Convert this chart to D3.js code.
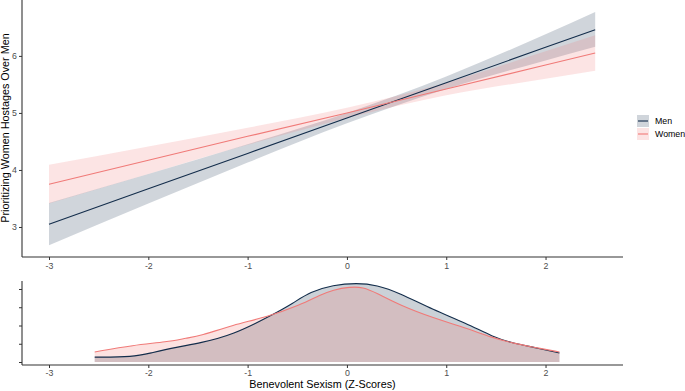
<!DOCTYPE html>
<html><head><meta charset="utf-8">
<script src="https://cdn.jsdelivr.net/npm/d3@7/dist/d3.min.js"></script>
<style>body{margin:0;background:#fff}svg{display:block;font-family:"Liberation Sans",Arial,sans-serif}</style>
</head><body>
<svg id="c" width="685" height="391"></svg>
<script>
// regression lines with confidence bands
const fitX = [-3, -2, -1, 0, 1, 2, 2.5];
const menFit = [3.05, 3.67, 4.29, 4.91, 5.53, 6.15, 6.46];
const menLo  = [2.68, 3.41, 4.13, 4.82, 5.42, 5.92, 6.16];
const menHi  = [3.42, 3.93, 4.45, 5.00, 5.64, 6.38, 6.77];
const womenFit = [3.75, 4.17, 4.59, 5.00, 5.42, 5.84, 6.05];
const womenLo  = [3.41, 3.93, 4.44, 4.91, 5.31, 5.60, 5.74];
const womenHi  = [4.09, 4.41, 4.74, 5.09, 5.53, 6.08, 6.36];
// density of predictor
const menDX = [-2.54,-2.15,-1.98,-1.71,-1.48,-1.15,-0.75,-0.54,-0.37,-0.14,0.1,0.3,0.53,0.87,1.2,1.47,1.67,1.87,2.14];
const menD  = [0.027,0.027,0.049,0.082,0.104,0.148,0.258,0.323,0.384,0.422,0.433,0.422,0.378,0.285,0.214,0.137,0.104,0.082,0.049];
const womenDX = [-2.54,-2.15,-1.81,-1.61,-1.48,-1.15,-0.8,-0.47,-0.27,-0.14,0.03,0.16,0.3,0.53,0.87,1.2,1.47,1.67,1.87,2.14];
const womenD  = [0.055,0.093,0.110,0.132,0.142,0.203,0.247,0.312,0.367,0.395,0.412,0.411,0.378,0.312,0.241,0.186,0.132,0.104,0.082,0.055];
const xTicks = [-3, -2, -1, 0, 1, 2];
const yTicks = [3, 4, 5, 6];
const dTicks = [0, 0.1, 0.2, 0.3, 0.4];
const groups = ["Men", "Women"];
const lineCol = {Men: "#132d4b", Women: "#f07a78"};

const svg = d3.select("#c");
const L = 22, R = 623;
const x = d3.scaleLinear().domain([-3.272, 2.78]).range([L, R]);
const yT = d3.scaleLinear().domain([2.474, 6.98]).range([257, 0]);
const yB = d3.scaleLinear().domain([-0.0164, 0.4438]).range([365, 281]);

const axisCol = "#333";
const tickTxt = "#4d4d4d";
const fmt = d => String(d);

// top panel bands
const area = d3.area().x(d => x(d.x)).y0(d => yT(d.lo)).y1(d => yT(d.hi)).curve(d3.curveMonotoneX);
const line = d3.line().x(d => x(d.x)).y(d => yT(d.y));
const data = {
  Men: fitX.map((v, i) => ({x: v, y: menFit[i], lo: menLo[i], hi: menHi[i]})),
  Women: fitX.map((v, i) => ({x: v, y: womenFit[i], lo: womenLo[i], hi: womenHi[i]}))
};
groups.forEach(g => {
  svg.append("path").attr("d", area(data[g])).attr("fill", lineCol[g]).attr("fill-opacity", 0.2);
});
groups.forEach(g => {
  svg.append("path").attr("d", line(data[g])).attr("fill", "none").attr("stroke", lineCol[g]).attr("stroke-width", 1.1);
});

// top axes
const gx = svg.append("g").attr("transform", "translate(0,257)")
  .call(d3.axisBottom(x).tickValues(xTicks).tickSize(3).tickPadding(3).tickFormat(fmt));
const gy = svg.append("g").attr("transform", `translate(${L},0)`)
  .call(d3.axisLeft(yT).tickValues(yTicks).tickSize(3).tickPadding(2).tickFormat(fmt));
[gx, gy].forEach(g => {
  g.select(".domain").attr("stroke", axisCol).attr("stroke-width", 1.1);
  g.selectAll(".tick line").attr("stroke", axisCol);
  g.selectAll(".tick text").attr("fill", tickTxt).style("font-size", "8.8px").style("font-family", "Liberation Sans, Arial, sans-serif");
});
gx.select(".domain").attr("d", `M${L},0H${R}`);
gy.select(".domain").attr("d", `M0,257V0`);

svg.append("text").attr("transform", "translate(5,128) rotate(-90)").attr("text-anchor", "middle")
  .attr("dy", "0.35em").style("font-size", "10.8px").attr("fill", "#000").text("Prioritizing Women Hostages Over Men");

// legend
groups.forEach((g, i) => {
  const yy = 115 + i * 13;
  svg.append("rect").attr("x", 637).attr("y", yy).attr("width", 12).attr("height", 12)
    .attr("fill", lineCol[g]).attr("fill-opacity", 0.2);
  svg.append("line").attr("x1", 638).attr("x2", 648).attr("y1", yy + 6).attr("y2", yy + 6)
    .attr("stroke", lineCol[g]).attr("stroke-width", 1.1);
  svg.append("text").attr("x", 655).attr("y", yy + 6).attr("dy", "0.35em")
    .style("font-size", "8.8px").attr("fill", "#000").text(g);
});

// bottom density panel
const dArea = d3.area().x(d => x(d.x)).y0(yB(0)).y1(d => yB(d.y)).curve(d3.curveBasis);
const dLine = d3.line().x(d => x(d.x)).y(d => yB(d.y)).curve(d3.curveBasis);
const dens = {
  Men: menDX.map((v, i) => ({x: v, y: menD[i]})),
  Women: womenDX.map((v, i) => ({x: v, y: womenD[i]}))
};
groups.forEach(g => {
  svg.append("path").attr("d", dArea(dens[g])).attr("fill", lineCol[g]).attr("fill-opacity", 0.22);
});
groups.forEach(g => {
  svg.append("path").attr("d", dLine(dens[g])).attr("fill", "none").attr("stroke", lineCol[g]).attr("stroke-width", 1.1);
});

const bx = svg.append("g").attr("transform", "translate(0,365)")
  .call(d3.axisBottom(x).tickValues(xTicks).tickSize(3).tickPadding(2).tickFormat(fmt));
const by = svg.append("g").attr("transform", `translate(${L},0)`)
  .call(d3.axisLeft(yB).tickValues(dTicks).tickSize(3).tickFormat(""));
[bx, by].forEach(g => {
  g.select(".domain").attr("stroke", axisCol).attr("stroke-width", 1.1);
  g.selectAll(".tick line").attr("stroke", axisCol);
  g.selectAll(".tick text").attr("fill", tickTxt).style("font-size", "8.8px").style("font-family", "Liberation Sans, Arial, sans-serif");
});
bx.select(".domain").attr("d", `M${L},0H${R}`);
by.select(".domain").attr("d", `M0,365V281`);

svg.append("text").attr("x", (L + R) / 2).attr("y", 384).attr("dy", "0.35em").attr("text-anchor", "middle")
  .style("font-size", "10.8px").attr("fill", "#000").text("Benevolent Sexism (Z-Scores)");
</script>
</body></html>
